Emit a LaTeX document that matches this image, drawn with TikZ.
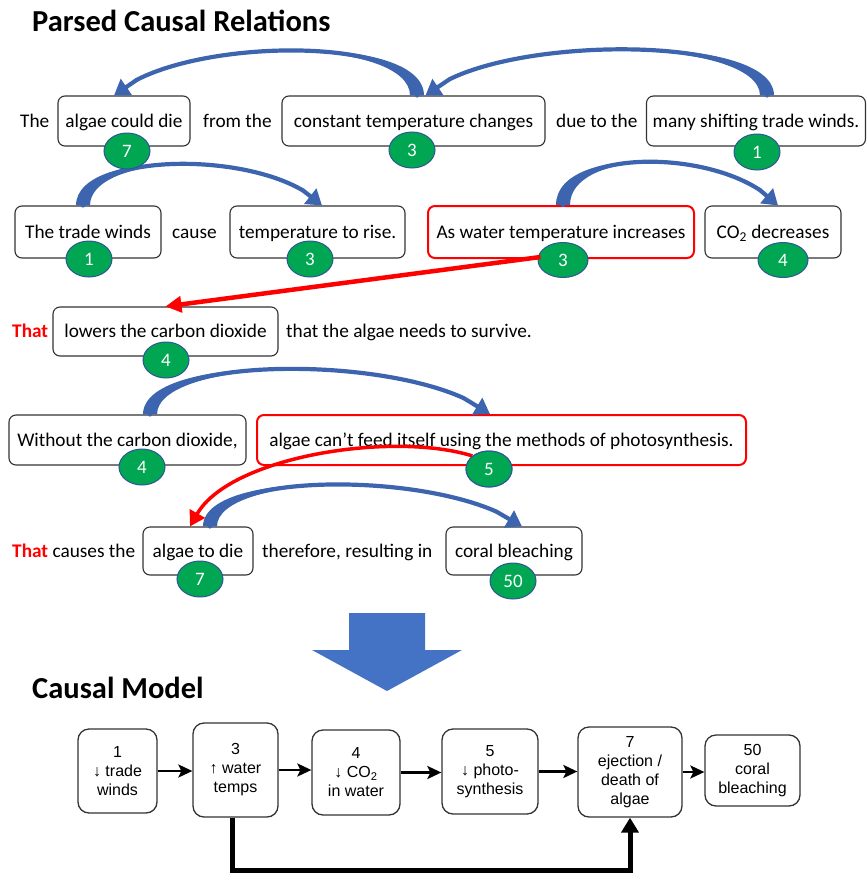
\documentclass[tikz,border=0pt]{standalone}
\usepackage{fontspec}
\setmainfont{Carlito}
\newfontfamily\modelfont{Liberation Sans}
\usetikzlibrary{calc,arrows.meta,shapes.geometric,fadings}

\definecolor{arrowblue}{HTML}{3D64AE}
\definecolor{bigblue}{HTML}{4472C4}
\definecolor{badgegreen}{HTML}{00A651}
\definecolor{badgeedge}{HTML}{2F5597}
\definecolor{pptred}{HTML}{FF0000}
\definecolor{boxedge}{HTML}{333333}

\tikzfading[name=midfade, left color=transparent!0, middle color=transparent!75, right color=transparent!0]

% Tapered curved link: #1 start, #2 end, #3 signed half base width,
% #4 rise of the start control, #5 x offset of the end control, #6 rise of the end control.
% The curve is split by de Casteljau: the body stops at t=0.9, the head is a short
% straight piece up to the end; the taper covers the first half of the curve.
\newcommand{\bluelink}[6]{%
  \coordinate (lkP0) at (#1);
  \coordinate (lkP1) at ($(#1)+(0,-#4)$);
  \coordinate (lkP2) at ($(#2)+(#5,-#6)$);
  \coordinate (lkP3) at (#2);
  \coordinate (lkQ1) at ($0.1*(lkP0)+0.9*(lkP1)$);
  \coordinate (lkQ2) at ($0.01*(lkP0)+0.18*(lkP1)+0.81*(lkP2)$);
  \coordinate (lkQ3) at ($0.001*(lkP0)+0.027*(lkP1)+0.243*(lkP2)+0.729*(lkP3)$);
  \coordinate (lkH1) at ($0.5*(lkP0)+0.5*(lkP1)$);
  \coordinate (lkH2) at ($0.25*(lkP0)+0.5*(lkP1)+0.25*(lkP2)$);
  \coordinate (lkM) at ($0.125*(lkP0)+0.375*(lkP1)+0.375*(lkP2)+0.125*(lkP3)$);
  \fill[arrowblue] ($(lkP0)+(#3,0)$) .. controls ($(lkH1)+(#3,-3)$) and ($(lkH2)+(0,-2)$) .. (lkM)
     .. controls ($(lkH2)+(0,2)$) and ($(lkH1)-(#3,-3)$) .. ($(lkP0)-(#3,0)$) -- cycle;
  \draw[arrowblue, line width=4.2pt, line cap=round] (lkP0) .. controls (lkQ1) and (lkQ2) .. (lkQ3);
  \draw[arrowblue, line width=4.2pt, -{Triangle[length=15pt,width=19pt]}] (lkQ3) -- (lkP3);}

\begin{document}
\begin{tikzpicture}[x=1pt,y=-1pt,
  word/.style={inner sep=0pt, text height=13pt, text depth=1pt, font=\fontsize{19.3}{23}\selectfont},
  redword/.style={word, text=pptred, font=\fontsize{19.3}{23}\selectfont\bfseries},
  box/.style={word, draw=boxedge, line width=1.1pt, rounded corners=7pt, fill=white},
  redbox/.style={box, draw=pptred, line width=2pt},
  badge/.style={ellipse, draw=badgeedge, line width=1pt, fill=badgegreen, text=white,
    minimum width=46pt, minimum height=36pt, inner sep=0pt, font=\fontsize{19}{22}\selectfont},
  title/.style={anchor=base west, inner sep=0pt, font=\fontsize{30.5}{36}\selectfont\bfseries},
  mbox/.style={draw=boxedge, line width=1.3pt, rounded corners=11pt, align=center, inner sep=0pt,
    font=\modelfont\fontsize{16}{19}\selectfont},
  flow/.style={line width=2.4pt, -{Stealth[length=14pt,width=13pt,inset=3pt]}},
  ]
\fill[white] (0,0) rectangle (867,873);
\useasboundingbox (0,0) rectangle (867,873);

% ---------- parsed sentences ----------
\node[title] (t1) at (32,31) {Parsed Causal Relations};

% row 1
\node[word, anchor=west] (w1) at (20,121) {The};
\node[box, minimum width=132pt, minimum height=50pt] (b7a) at (124,121) {algae could die};
\node[word, anchor=west] (w2) at (203,121) {from the};
\node[box, minimum width=263pt, minimum height=50pt] (b3a) at (413.5,121) {constant temperature changes};
\node[word, anchor=west] (w3) at (556,121) {due to the};
\node[box, minimum width=219pt, minimum height=50pt] (b1a) at (756,121) {many shifting trade winds.};

% row 2
\node[box, minimum width=146pt, minimum height=52pt] (b1b) at (88,232) {The trade winds};
\node[word, anchor=west] (w4) at (172,232) {cause};
\node[box, minimum width=175pt, minimum height=52pt] (b3b) at (317.5,232) {temperature to rise.};
\node[redbox, minimum width=266pt, minimum height=52pt] (b3c) at (561,232) {As water temperature increases};
\node[box, minimum width=136pt, minimum height=52pt] (b4b) at (773,232) {CO\textsubscript{2} decreases};

% row 3
\node[redword, anchor=west] (w5) at (12,331.5) {That};
\node[box, minimum width=225pt, minimum height=49pt] (b4c) at (165.5,331.5) {lowers the carbon dioxide};
\node[word, anchor=west] (w6) at (286,331.5) {that the algae needs to survive.};

% row 4
\node[box, minimum width=237pt, minimum height=50pt] (b4d) at (127.5,440) {Without the carbon dioxide,};
\node[redbox, minimum width=489pt, minimum height=50pt] (b5) at (501.5,440) {algae can’t feed itself using the methods of photosynthesis.};

% row 5
\node[word, anchor=west] (w7) at (12,551) {{\color{pptred}\bfseries That} causes the};
\node[box, minimum width=110pt, minimum height=48pt] (b7b) at (198,551) {algae to die};
\node[word, anchor=west] (w8) at (262,551) {therefore, resulting in};
\node[box, minimum width=136pt, minimum height=48pt] (b50) at (514,551) {coral bleaching};

% curved blue links
\coordinate (aS) at ($(b3a.north)+(3.5,0)$);  \coordinate (aE) at ($(b7a.north)+(-10,0)$);
\coordinate (bS) at ($(b1a.north)+(11,0)$);   \coordinate (bE) at ($(b3a.north)+(12,0)$);
\coordinate (cS) at ($(b1b.north)+(-5,0)$);   \coordinate (cE) at ($(b3b.north)+(4.5,0)$);
\coordinate (dS) at ($(b3c.north)+(2,0)$);    \coordinate (dE) at ($(b4b.north)+(5,0)$);
\coordinate (eS) at ($(b4d.north)+(22.5,0)$); \coordinate (eE) at ($(b5.north)+(-11.5,0)$);
\coordinate (fS) at ($(b7b.north)+(12,0)$);   \coordinate (fE) at ($(b50.north)+(8,0)$);
\bluelink{aS}{aE}{7}{62}{60}{58}
\bluelink{bS}{bE}{7}{63}{60}{60}
\bluelink{cS}{cE}{-7}{56}{-50}{55}
\bluelink{dS}{dE}{-7}{59}{-50}{57}
\bluelink{eS}{eE}{-7}{62}{-70}{59}
\bluelink{fS}{fE}{-7}{57}{-70}{55}

% badges
\node[badge] (g7a) at (127,151) {7};
\node[badge] (g3a) at (412,150) {3};
\node[badge] (g1a) at (757,152) {1};
\node[badge] (g1b) at (89,259) {1};
\node[badge] (g3b) at (310,259) {3};
\node[badge, minimum width=50pt, minimum height=35pt] (g3c) at (563,260) {3};
\node[badge, minimum width=50pt, minimum height=35pt] (g4b) at (783,260) {4};
\node[badge] (g4c) at (166,360) {4};
\node[badge] (g4d) at (142,467) {4};
\node[badge] (g5) at (489,469) {5};
\node[badge] (g7b) at (200,579) {7};
\node[badge] (g50) at (513,581) {50};

% red links
\coordinate (rS) at ($(g3c.west)+(3,-3)$);
\draw[pptred, line width=4.5pt, -{Triangle[length=16pt,width=16pt]}] (rS) -- (b4c.north);
\coordinate (gE) at ($(b7b.north)+(-8,0)$);
\draw[pptred, line width=3.5pt, path fading=midfade, -{Triangle[length=15pt,width=17pt]}]
  (g5.north west) .. controls +(-80,-25) and +(40,-70) .. (gE);
\node[badge] at (g5) {5};

% ---------- big transition arrow ----------
\fill[bigblue] (349,613) -- (425,613) -- (425,650) -- (462,650) -- (387,691)
  -- (312,650) -- (349,650) -- cycle;

% ---------- causal model ----------
\node[title] (t2) at (32,698) {Causal Model};

\node[mbox, minimum width=79pt, minimum height=84pt] (m1) at (117.5,771) {1\\↓ trade\\winds};
\node[mbox, minimum width=85pt, minimum height=94pt] (m3) at (235.5,770) {3\\↑ water\\temps};
\node[mbox, minimum width=88pt, minimum height=85pt] (m4) at (356,772.5) {4\\↓ CO\textsubscript{2}\\in water};
\node[mbox, minimum width=96pt, minimum height=85pt] (m5) at (490,771.5) {5\\↓ photo-\\synthesis};
\node[mbox, minimum width=104pt, minimum height=90pt] (m7) at (630,772) {7\\ejection /\\death of\\algae};
\node[mbox, minimum width=95pt, minimum height=71pt] (m50) at (752.5,770.5) {50\\coral\\bleaching};

\draw[flow] (m1.east) -- (m1.east -| m3.west);
\draw[flow] (m3.east) -- (m3.east -| m4.west);
\draw[flow] (m4.east) -- (m4.east -| m5.west);
\draw[flow] (m5.east) -- (m5.east -| m7.west);
\draw[flow] (m7.east) -- (m7.east -| m50.west);
\draw[line width=5pt, -{Triangle[length=15pt,width=17pt]}]
  ($(m3.south)+(-3,0)$) -- ++(0,53) -| (m7.south);
\end{tikzpicture}
\end{document}
